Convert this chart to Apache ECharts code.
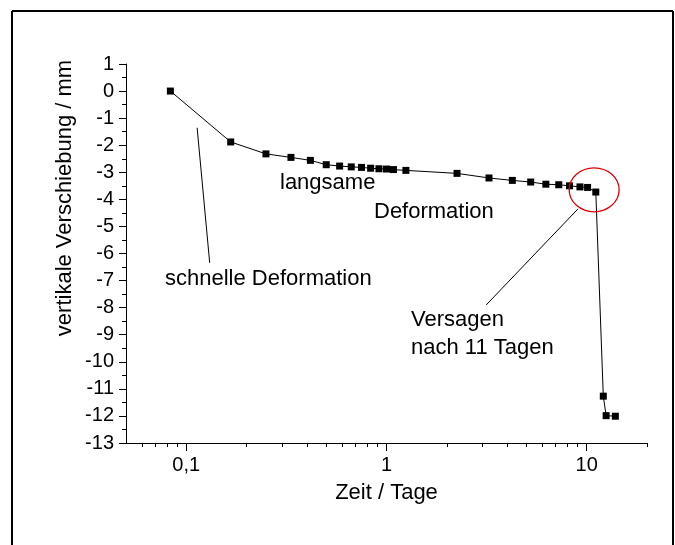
<!DOCTYPE html>
<html><head><meta charset="utf-8">
<script src="https://cdn.jsdelivr.net/npm/echarts@6/dist/echarts.min.js"></script>
<style>html,body{margin:0;padding:0;background:#fff}#c{width:675px;height:545px}</style>
</head><body><div id="c"></div>
<script>
// Data
const days = [0.0833, 0.1667, 0.25, 0.3333, 0.4167, 0.5, 0.5833, 0.6667, 0.75, 0.8333, 0.9167, 1.0, 1.0833, 1.25, 2.25, 3.25, 4.25, 5.25, 6.25, 7.25, 8.2, 9.25, 10.1, 11.1, 12.1, 12.5, 13.9];
const displacement = [0, -1.88, -2.32, -2.45, -2.56, -2.72, -2.77, -2.80, -2.82, -2.85, -2.87, -2.88, -2.90, -2.93, -3.04, -3.21, -3.30, -3.36, -3.44, -3.46, -3.50, -3.54, -3.56, -3.73, -11.27, -11.99, -12.01];
const xMajorTicks = [0.1, 1, 10];
const xMajorLabels = ['0,1', '1', '10'];
const xMinorTicks = [0.06, 0.07, 0.08, 0.09, 0.2, 0.3, 0.4, 0.5, 0.6, 0.7, 0.8, 0.9, 2, 3, 4, 5, 6, 7, 8, 9, 20];
const xName = 'Zeit / Tage';
const yName = 'vertikale Verschiebung / mm';
// annotation anchors in data coordinates
const fastArrow = [[0.1133, -1.355], [0.1309, -6.346]];
const failArrow = [[9.05, -4.35], [3.148, -7.90]];
const failCircle = [10.89, -3.647];

const FONT = '"Liberation Sans", Arial, sans-serif';
const chart = echarts.init(document.getElementById('c'), null, {renderer: 'canvas'});
const points = days.map((d, i) => [d, displacement[i]]);

function majorLabel(v) {
  const i = xMajorTicks.findIndex(t => Math.abs(Math.log10(t) - Math.log10(v)) < 1e-6);
  return i >= 0 ? xMajorLabels[i] : '';
}

chart.setOption({
  animation: false,
  backgroundColor: '#fff',
  grid: {left: 126, right: 28, top: 64, bottom: 102, containLabel: false},
  xAxis: [{
    type: 'log', logBase: 10, min: 0.05, max: 20, position: 'bottom',
    axisLine: {show: true, onZero: false, lineStyle: {color: '#000', width: 1}},
    axisTick: {show: true, customValues: xMajorTicks, length: 8, lineStyle: {color: '#000', width: 1}},
    axisLabel: {customValues: xMajorTicks, formatter: majorLabel, margin: 12, fontSize: 20, color: '#000', fontFamily: FONT},
    splitLine: {show: false}, minorTick: {show: false},
    name: xName, nameLocation: 'middle', nameGap: 39,
    nameTextStyle: {fontSize: 22, color: '#000', fontFamily: FONT}
  }, {
    type: 'log', logBase: 10, min: 0.05, max: 20, position: 'top', offset: -379,
    axisLine: {show: false, onZero: false},
    axisTick: {show: true, inside: true, customValues: xMinorTicks, length: 4, lineStyle: {color: '#000', width: 1}},
    axisLabel: {show: false}, splitLine: {show: false}
  }],
  yAxis: {
    type: 'value', min: -13, max: 1, interval: 1,
    axisLine: {show: true, onZero: false, lineStyle: {color: '#000', width: 1}},
    axisTick: {show: true, length: 7, lineStyle: {color: '#000', width: 1}},
    minorTick: {show: true, splitNumber: 2, length: 4, lineStyle: {color: '#000', width: 1}},
    axisLabel: {margin: 12, fontSize: 20, color: '#000', fontFamily: FONT},
    splitLine: {show: false}, minorSplitLine: {show: false}
  },
  series: [{
    type: 'line', xAxisIndex: 0, yAxisIndex: 0, data: points,
    symbol: 'rect', symbolSize: 7,
    itemStyle: {color: '#000'},
    lineStyle: {color: '#000', width: 1},
    z: 3
  }]
});

const px = p => chart.convertToPixel({xAxisIndex: 0, yAxisIndex: 0}, p);
const a0 = px(fastArrow[0]), a1 = px(fastArrow[1]);
const b0 = px(failArrow[0]), b1 = px(failArrow[1]);
const c0 = px(failCircle);
const txt = (text, x, y, size) => ({
  type: 'text', x: x, y: y, z: 10,
  style: {text: text, fontSize: size, fontFamily: FONT, fill: '#000', align: 'left', verticalAlign: 'middle'}
});

chart.setOption({
  graphic: [
    {type: 'line', shape: {x1: 12, y1: 11, x2: 673, y2: 11}, style: {stroke: '#000', lineWidth: 2}},
    {type: 'line', shape: {x1: 12, y1: 11, x2: 12, y2: 560}, style: {stroke: '#000', lineWidth: 2}},
    {type: 'line', shape: {x1: 673, y1: 11, x2: 673, y2: 560}, style: {stroke: '#000', lineWidth: 2}},
    {type: 'line', shape: {x1: a0[0], y1: a0[1], x2: a1[0], y2: a1[1]}, style: {stroke: '#000', lineWidth: 1}},
    {type: 'line', shape: {x1: b0[0], y1: b0[1], x2: b1[0], y2: b1[1]}, style: {stroke: '#000', lineWidth: 1}},
    {type: 'ellipse', shape: {cx: c0[0], cy: c0[1], rx: 25, ry: 22}, style: {stroke: '#e00000', fill: null, lineWidth: 1.3}, z: 10},
    txt('langsame', 280, 183, 22),
    txt('Deformation', 374, 211.5, 22),
    txt('schnelle Deformation', 165, 279, 22),
    txt('Versagen', 411, 320, 22),
    txt('nach 11 Tagen', 411, 347.5, 22),
    {type: 'text', x: 64.6, y: 198, rotation: Math.PI / 2, z: 10,
     style: {text: yName, fontSize: 22, fontFamily: FONT, fill: '#000', align: 'center', verticalAlign: 'middle'}}
  ]
});
</script>
</body></html>
